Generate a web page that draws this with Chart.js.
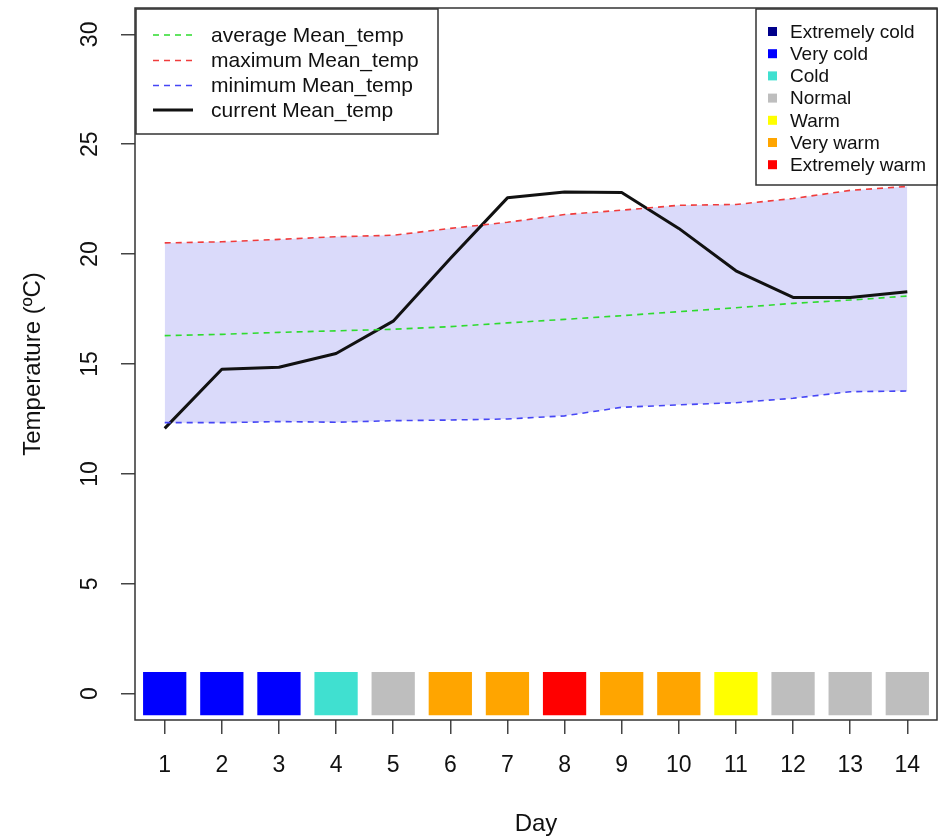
<!DOCTYPE html>
<html><head><meta charset="utf-8">
<script src="https://cdn.jsdelivr.net/npm/chart.js@4/dist/chart.umd.min.js"></script>
<style>html,body{margin:0;padding:0;background:#fff}</style>
</head><body>
<canvas id="c" width="948" height="839"></canvas>
<script>
// ---- data ----
const days = [1,2,3,4,5,6,7,8,9,10,11,12,13,14];
const avgTemp = [16.29,16.35,16.44,16.51,16.58,16.70,16.87,17.03,17.20,17.38,17.56,17.76,17.91,18.09];
const maxTemp = [20.51,20.56,20.67,20.79,20.86,21.17,21.45,21.80,22.00,22.22,22.26,22.53,22.90,23.08];
const minTemp = [12.33,12.33,12.38,12.35,12.42,12.45,12.50,12.64,13.03,13.14,13.24,13.44,13.74,13.77];
const curTemp = [12.07,14.76,14.85,15.48,16.95,19.80,22.56,22.83,22.80,21.17,19.24,18.03,18.03,18.29];
const dayClass = ['Very cold','Very cold','Very cold','Cold','Normal','Very warm','Very warm','Extremely warm','Very warm','Very warm','Warm','Normal','Normal','Normal'];
const classNames = ['Extremely cold','Very cold','Cold','Normal','Warm','Very warm','Extremely warm'];
const classColors = ['#00008B','#0000FF','#40E0D0','#BEBEBE','#FFFF00','#FFA500','#FF0000'];
const yTicks = [0,5,10,15,20,25,30];
const xTicks = days;
const seriesLabels = ['average Mean_temp','maximum Mean_temp','minimum Mean_temp','current Mean_temp'];
const xTitle = 'Day';
const yTitle = 'Temperature (ºC)';

const FONT = '"Liberation Sans", Arial, Helvetica, sans-serif';
const seriesColors = ['#2EDB2E','#F03C3C','#4646F5','#111111'];
const seriesDash = [[6,5],[6,5],[6,5],[]];
const seriesWidth = [1.6,1.6,1.6,3];

const pts = arr => days.map((d,i)=>({x:d,y:arr[i]}));
const squareColors = dayClass.map(c => classColors[classNames.indexOf(c)]);

const textPlugin = {
  id:'rtext',
  afterDraw(chart){
    const ctx = chart.ctx, a = chart.chartArea, xs = chart.scales.x, ys = chart.scales.y;
    ctx.save();
    // plot box
    ctx.strokeStyle = '#333'; ctx.lineWidth = 1.5;
    ctx.strokeRect(a.left, a.top, a.right - a.left, a.bottom - a.top);
    ctx.fillStyle = '#111';
    // x tick labels
    ctx.font = '23px ' + FONT; ctx.textAlign = 'center'; ctx.textBaseline = 'middle';
    xTicks.forEach(v => ctx.fillText(String(v), xs.getPixelForValue(v), a.bottom + 46));
    // y tick labels (rotated)
    yTicks.forEach(v => {
      ctx.save(); ctx.translate(a.left - 44, ys.getPixelForValue(v)); ctx.rotate(-Math.PI/2);
      ctx.fillText(String(v), 0, 0); ctx.restore();
    });
    // titles
    ctx.font = '24px ' + FONT;
    ctx.fillText(xTitle, (a.left + a.right)/2, a.bottom + 104);
    ctx.save(); ctx.translate(33, (a.top + a.bottom)/2); ctx.rotate(-Math.PI/2);
    ctx.fillText(yTitle, 0, 0); ctx.restore();

    // left legend
    ctx.fillStyle = '#fff'; ctx.fillRect(136, 9, 302, 125);
    ctx.strokeStyle = '#333'; ctx.lineWidth = 1.5; ctx.strokeRect(136, 9, 302, 125);
    const rowY = [35, 60.5, 85.5, 110];
    ctx.font = '21px ' + FONT; ctx.textAlign = 'left';
    seriesLabels.forEach((lab,i) => {
      ctx.save();
      ctx.strokeStyle = seriesColors[i]; ctx.lineWidth = seriesWidth[i]; ctx.setLineDash(seriesDash[i]);
      ctx.beginPath(); ctx.moveTo(153, rowY[i]); ctx.lineTo(193, rowY[i]); ctx.stroke();
      ctx.restore();
      ctx.fillStyle = '#111'; ctx.fillText(lab, 211, rowY[i] + 1);
    });
    // right legend
    ctx.fillStyle = '#fff'; ctx.fillRect(756, 9, 181, 176);
    ctx.strokeStyle = '#333'; ctx.lineWidth = 1.5; ctx.strokeRect(756, 9, 181, 176);
    ctx.font = '19px ' + FONT;
    classNames.forEach((lab,i) => {
      const y = 31.5 + i * 22.2;
      ctx.fillStyle = classColors[i]; ctx.fillRect(768, y - 4.5, 9, 9);
      ctx.fillStyle = '#111'; ctx.fillText(lab, 790, y + 1);
    });
    ctx.restore();
  }
};

new Chart(document.getElementById('c'), {
  type:'line',
  data:{
    datasets:[
      {label:seriesLabels[0], data:pts(avgTemp), borderColor:seriesColors[0], borderWidth:seriesWidth[0], borderDash:seriesDash[0], pointRadius:0, fill:false},
      {label:seriesLabels[1], data:pts(maxTemp), borderColor:seriesColors[1], borderWidth:seriesWidth[1], borderDash:seriesDash[1], pointRadius:0, fill:{target:2}, backgroundColor:'rgb(218,218,250)'},
      {label:seriesLabels[2], data:pts(minTemp), borderColor:seriesColors[2], borderWidth:seriesWidth[2], borderDash:seriesDash[2], pointRadius:0, fill:false},
      {label:seriesLabels[3], data:pts(curTemp), borderColor:seriesColors[3], borderWidth:seriesWidth[3], pointRadius:0, fill:false, borderJoinStyle:'round'},
      {label:'class', data:days.map(d=>({x:d,y:0})), showLine:false, pointStyle:'rect', pointRadius:30.6, pointHoverRadius:30.6, pointHitRadius:0, pointBackgroundColor:squareColors, pointBorderWidth:0, borderWidth:0}
    ]
  },
  options:{
    responsive:false, animation:false, events:[],
    layout:{autoPadding:false, padding:{left:0, top:8, right:11, bottom:0}},
    plugins:{legend:{display:false}, tooltip:{enabled:false}, filler:{drawTime:'beforeDatasetsDraw'}},
    scales:{
      x:{type:'linear', min:0.48, max:14.52,
        afterBuildTicks:s=>{s.ticks = xTicks.map(v=>({value:v}));},
        afterFit:s=>{s.height = 119;},
        grid:{drawOnChartArea:false, drawTicks:true, tickLength:14, color:'#444', lineWidth:1.5},
        border:{display:false}, ticks:{display:false}},
      y:{type:'linear', min:-1.2, max:31.2,
        afterBuildTicks:s=>{s.ticks = yTicks.map(v=>({value:v}));},
        afterFit:s=>{s.width = 135;},
        grid:{drawOnChartArea:false, drawTicks:true, tickLength:14, color:'#444', lineWidth:1.5},
        border:{display:false}, ticks:{display:false}}
    }
  },
  plugins:[textPlugin]
});
</script>
</body></html>
